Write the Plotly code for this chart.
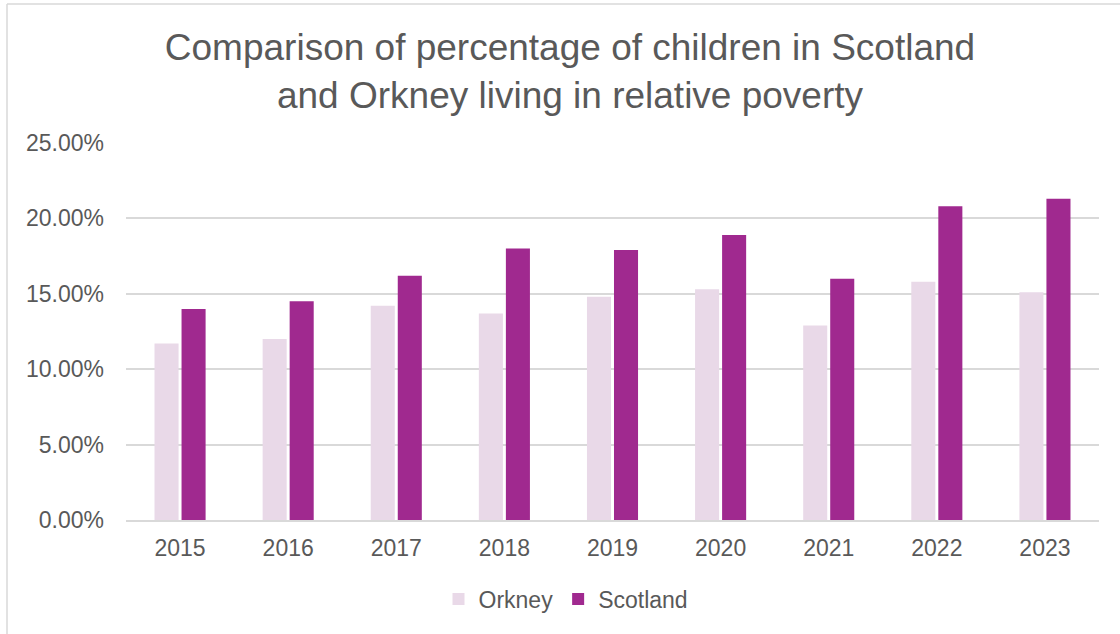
import plotly.graph_objects as go

years = ["2015", "2016", "2017", "2018", "2019", "2020", "2021", "2022", "2023"]
orkney = [0.117, 0.120, 0.142, 0.137, 0.148, 0.153, 0.129, 0.158, 0.151]
scotland = [0.140, 0.145, 0.162, 0.180, 0.179, 0.189, 0.160, 0.208, 0.213]
series_names = ["Orkney", "Scotland"]
title_text = "Comparison of percentage of children in Scotland<br>and Orkney living in relative poverty"

W, H = 1120, 634
L, R, T, B = 126, 21, 143, 114
pw, ph = W - L - R, H - T - B

def px_x(x):
    return (x - L) / pw

def px_y(y):
    return (H - B - y) / ph

text_color = "#595959"
grid_color = "#D9D9D9"
font_family = "Liberation Sans, Arial, sans-serif"

fig = go.Figure()
fig.add_trace(go.Bar(x=years, y=orkney, name=series_names[0],
                     marker=dict(color="#E9D9E8", line=dict(width=0))))
fig.add_trace(go.Bar(x=years, y=scotland, name=series_names[1],
                     marker=dict(color="#A0298F", line=dict(width=0))))

fig.update_layout(
    width=W, height=H,
    margin=dict(l=L, r=R, t=T, b=B, pad=0),
    paper_bgcolor="white", plot_bgcolor="white",
    font=dict(family=font_family, color=text_color, size=23),
    barmode="group", bargap=0.5, bargroupgap=0.11,
    title=dict(text=title_text, x=570 / W, xanchor="center", xref="container",
               y=1 - 60 / H, yanchor="middle", yref="container",
               font=dict(size=37, color=text_color, family=font_family)),
    showlegend=True,
    legend=dict(orientation="h", x=px_x(566), xanchor="center",
                y=px_y(599), yanchor="middle",
                font=dict(size=23, color=text_color),
                itemwidth=30, traceorder="normal", bgcolor="rgba(0,0,0,0)"),
    xaxis=dict(showgrid=False, showline=True, linecolor=grid_color, linewidth=1.5,
               ticks="", tickfont=dict(size=23, color=text_color),
               ticklabelstandoff=7, zeroline=False),
    yaxis=dict(range=[0, 0.25], dtick=0.05, tickformat=".2%", showgrid=True,
               gridcolor=grid_color, gridwidth=1.5, showline=False, zeroline=False,
               ticks="", tickfont=dict(size=23, color=text_color),
               ticklabelstandoff=21),
    shapes=[
        dict(type="line", xref="paper", yref="paper",
             x0=px_x(7), x1=px_x(1125), y0=px_y(4), y1=px_y(4),
             line=dict(color=grid_color, width=1.5)),
        dict(type="line", xref="paper", yref="paper",
             x0=px_x(7), x1=px_x(7), y0=px_y(4), y1=px_y(640),
             line=dict(color=grid_color, width=1.5)),
    ],
)

fig.write_html("out.html")
